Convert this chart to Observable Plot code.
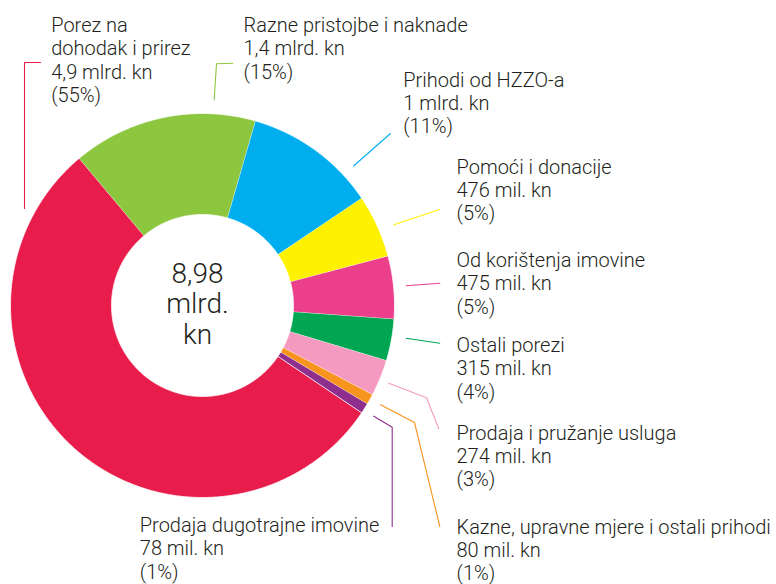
<!DOCTYPE html>
<html><head><meta charset="utf-8">
<script src="https://cdn.jsdelivr.net/npm/d3@7"></script>
<script src="https://cdn.jsdelivr.net/npm/@observablehq/plot@0.6"></script>
<style>html,body{margin:0;padding:0;background:#fff}#chart svg{display:block}</style>
</head><body><div id="chart"></div>
<script>
// ---- data ----
const names = ["Porez na dohodak i prirez", "Razne pristojbe i naknade", "Prihodi od HZZO-a", "Pomoći i donacije", "Od korištenja imovine", "Ostali porezi", "Prodaja i pružanje usluga", "Kazne, upravne mjere i ostali prihodi", "Prodaja dugotrajne imovine"];
const nameLines = ["Porez na\ndohodak i prirez", "Razne pristojbe i naknade", "Prihodi od HZZO-a", "Pomoći i donacije", "Od korištenja imovine", "Ostali porezi", "Prodaja i pružanje usluga", "Kazne, upravne mjere i ostali prihodi", "Prodaja dugotrajne imovine"];
const values = [4.9, 1.4, 1.0, 0.476, 0.475, 0.315, 0.274, 0.080, 0.078];
const amountLabels = ["4,9 mlrd. kn", "1,4 mlrd. kn", "1 mlrd. kn", "476 mil. kn", "475 mil. kn", "315 mil. kn", "274 mil. kn", "80 mil. kn", "78 mil. kn"];
const shareLabels = ["(55%)", "(15%)", "(11%)", "(5%)", "(5%)", "(4%)", "(3%)", "(1%)", "(1%)"];
const totalLabel = "8,98\nmlrd.\nkn";

// ---- style / layout ----
const colors = ["#E81D4C", "#8DC63F", "#00AEEF", "#FFF200", "#EC3F8B", "#00A651", "#F49AC1", "#F7941D", "#8E2F8E"];
const W = 776, H = 584;
const cx = 202, cy = 305, R = 192, r0 = 91;
const startDeg = 124;
const fontFamily = "Roboto, 'Noto Sans', sans-serif";
const fs = 20, lh = 23.3;
// label anchors: x, first-line baseline
const labelPos = [[50.7, 31.5], [243, 31.5], [402.7, 86], [456, 173.3], [456, 266.7], [456, 351.7], [456, 439.3], [456, 533.3], [139.3, 531.7]];
// leader polylines
const leaders = [
  [[40, 62], [24, 62], [24, 208]],
  [[213.7, 99.3], [216, 63.3], [232.3, 62.7]],
  [[353, 165.5], [390, 133]],
  [[393.3, 224.3], [439.3, 209]],
  [[405.7, 285.3], [439.3, 282.7]],
  [[405.7, 337.7], [439.3, 342.7]],
  [[388.3, 382.7], [426, 397.3], [438.3, 428.3]],
  [[380, 404.3], [414, 422], [439.3, 526]],
  [[373.3, 415.7], [391.7, 426.7], [391.7, 526]]
];

// ---- derived geometry ----
const a0 = startDeg * Math.PI / 180;
const arcs = d3.pie().sort(null).startAngle(a0).endAngle(a0 + 2 * Math.PI)(values);
const ring = [];
arcs.forEach((a, i) => {
  const n = Math.max(2, Math.ceil((a.endAngle - a.startAngle) / (Math.PI / 360)) + 1);
  const outer = d3.range(n).map(k => a.startAngle + (a.endAngle - a.startAngle) * k / (n - 1));
  outer.forEach(t => ring.push({name: names[i], x: cx + R * Math.sin(t), y: cy - R * Math.cos(t)}));
  outer.slice().reverse().forEach(t => ring.push({name: names[i], x: cx + r0 * Math.sin(t), y: cy - r0 * Math.cos(t)}));
});
const leaderPts = leaders.flatMap((pts, i) => pts.map(([x, y]) => ({name: names[i], x, y})));
const labels = names.map((n, i) => ({
  name: n,
  text: nameLines[i] + "\n" + amountLabels[i] + "\n" + shareLabels[i],
  x: labelPos[i][0],
  y: labelPos[i][1] - 0.71 * lh
}));

const chart = Plot.plot({
  width: W, height: H, margin: 0,
  x: {domain: [0, W], range: [0, W], axis: null},
  y: {domain: [0, H], range: [0, H], axis: null},
  color: {domain: names, range: colors},
  style: {fontFamily, background: "#fff"},
  marks: [
    Plot.line(ring, {x: "x", y: "y", z: "name", fill: "name", stroke: "#fff", strokeWidth: 0.8, strokeLinejoin: "miter"}),
    Plot.line(leaderPts, {x: "x", y: "y", z: "name", stroke: "name", strokeWidth: 1.1}),
    Plot.text(labels, {x: "x", y: "y", text: "text", textAnchor: "start", lineAnchor: "top", lineHeight: lh / fs, fontSize: fs, fontWeight: 300, fill: "#231F20"}),
    Plot.text([totalLabel], {x: cx - 5, y: cy - 2, text: d => d, textAnchor: "middle", lineAnchor: "middle", lineHeight: 30.5 / 28, fontSize: 28, fontWeight: 300, fill: "#231F20"})
  ]
});
document.getElementById("chart").appendChild(chart);
</script>
</body></html>
